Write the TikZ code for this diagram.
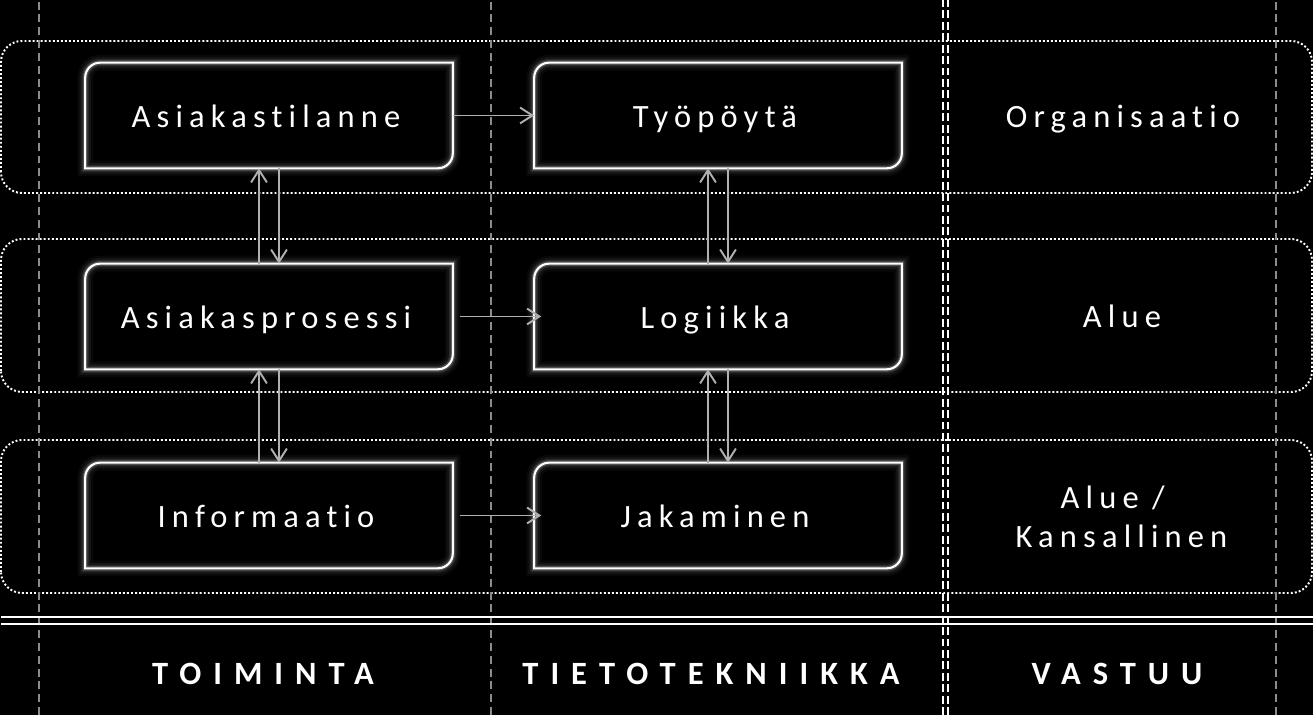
\documentclass[tikz,border=0pt]{standalone}
\usepackage{fontspec}
\setmainfont{Carlito}[Ligatures=NoCommon]
\newfontfamily\boxfont{Carlito}[LetterSpace=19, Ligatures=NoCommon]
\newfontfamily\headfont{Carlito}[LetterSpace=37, Ligatures=NoCommon]
\usetikzlibrary{arrows.meta}
\definecolor{linegray}{HTML}{B0B0B0}
\definecolor{gridgray}{HTML}{8C8C8C}
\tikzset{box/.style = {minimum width=7.34cm, minimum height=2.1cm, inner sep=0,
                       text=white, text height=14pt, text depth=0pt,
                       execute at end node={\hspace{3.4pt}},
                       font=\boxfont\fontsize{18.5}{22}\selectfont}}
\tikzset{lbl/.style = {text=white, align=center, inner sep=0,
                       font=\boxfont\fontsize{18.5}{22}\selectfont}}
\tikzset{head/.style = {text=white, inner sep=0, text height=11.7pt, text depth=0pt,
                        font=\headfont\bfseries\fontsize{18.5}{22}\selectfont}}
\tikzset{flow/.style = {draw=linegray, line width=1.1pt,
                        -{Straight Barb[length=7pt,width=9pt]}}}
\tikzset{rowband/.style = {draw=white, line width=1.1pt,
                           dash pattern=on 1.1pt off 1.2pt, rounded corners=0.42cm}}
\tikzset{colline/.style = {draw=gridgray, line width=1.1pt, dash pattern=on 4.5pt off 2.8pt}}
\tikzset{splitline/.style = {draw=white, line width=1.2pt, dash pattern=on 4.5pt off 2pt}}
\newcommand{\cardframe}[1]{%
  \foreach \w/\o in {9pt/0.03,6.5pt/0.05,4.2pt/0.09,2.6pt/0.18}
    \draw[white, opacity=\o, line width=\w]
      (#1.south west) -- ([yshift=-0.3cm]#1.north west)
      arc[start angle=180, end angle=90, radius=0.3cm] -- (#1.north east)
      -- ([yshift=0.3cm]#1.south east)
      arc[start angle=0, end angle=-90, radius=0.3cm] -- cycle;
  \draw[white, line width=1.2pt]
    (#1.south west) -- ([yshift=-0.3cm]#1.north west)
    arc[start angle=180, end angle=90, radius=0.3cm] -- (#1.north east)
    -- ([yshift=0.3cm]#1.south east)
    arc[start angle=0, end angle=-90, radius=0.3cm] -- cycle;}

\begin{document}
\begin{tikzpicture}[x=0.02cm, y=0.02cm]
  \fill[black] (0,0) rectangle (1313,715);
  \useasboundingbox (0,0) rectangle (1313,715);

  \foreach \top/\bot in {674/522, 476/323, 275/122}
    \draw[rowband] (1,\bot) rectangle (1312,\top);
  \foreach \x in {39, 491, 1276}
    \draw[colline] (\x,0) -- (\x,715);
  \draw[splitline] (943,0) -- (943,715);
  \draw[splitline] (948,0) -- (948,715);
  \draw[white, line width=1.2pt] (1,98) -- (1313,98);
  \draw[white, line width=1.2pt] (1,91) -- (1313,91);

  \node[box] (sit) at (269,599.5) {Asiakastilanne};
  \node[box] (desk) at (718,599.5) {Työpöytä};
  \node[box] (proc) at (269,398.5) {Asiakasprosessi};
  \node[box] (logic) at (718,398.5) {Logiikka};
  \node[box] (info) at (269,199.5) {Informaatio};
  \node[box] (share) at (718,199.5) {Jakaminen};
  \foreach \b in {sit, desk, proc, logic, info, share}
    {\cardframe{\b}}

  \draw[flow] (sit) -- (desk);
  \draw[flow] ([xshift=0.14cm]proc.east) -- ([xshift=0.14cm]logic.west);
  \draw[flow] ([xshift=0.14cm]info.east) -- ([xshift=0.14cm]share.west);
  \draw[flow] ([xshift=-0.2cm]proc.north) -- ([xshift=-0.2cm]sit.south);
  \draw[flow] ([xshift=0.2cm]sit.south) -- ([xshift=0.2cm]proc.north);
  \draw[flow] ([xshift=-0.2cm]info.north) -- ([xshift=-0.2cm]proc.south);
  \draw[flow] ([xshift=0.2cm]proc.south) -- ([xshift=0.2cm]info.north);
  \draw[flow] ([xshift=-0.2cm]logic.north) -- ([xshift=-0.2cm]desk.south);
  \draw[flow] ([xshift=0.2cm]desk.south) -- ([xshift=0.2cm]logic.north);
  \draw[flow] ([xshift=-0.2cm]share.north) -- ([xshift=-0.2cm]logic.south);
  \draw[flow] ([xshift=0.2cm]logic.south) -- ([xshift=0.2cm]share.north);

  \node[lbl, text height=14pt, text depth=0pt] (org) at (1123,599.5) {Organisaatio};
  \node[lbl, text height=14pt, text depth=0pt] (reg) at (1122,399.5) {Alue};
  \node[lbl] (nat) at (1121.5,198) {Alue /\hspace*{10pt}\\Kansallinen};

  \node[head] (act) at (263,41) {TOIMINTA};
  \node[head] (ict) at (711,41) {TIETOTEKNIIKKA};
  \node[head] (resp) at (1117,41) {VASTUU};
\end{tikzpicture}
\end{document}
